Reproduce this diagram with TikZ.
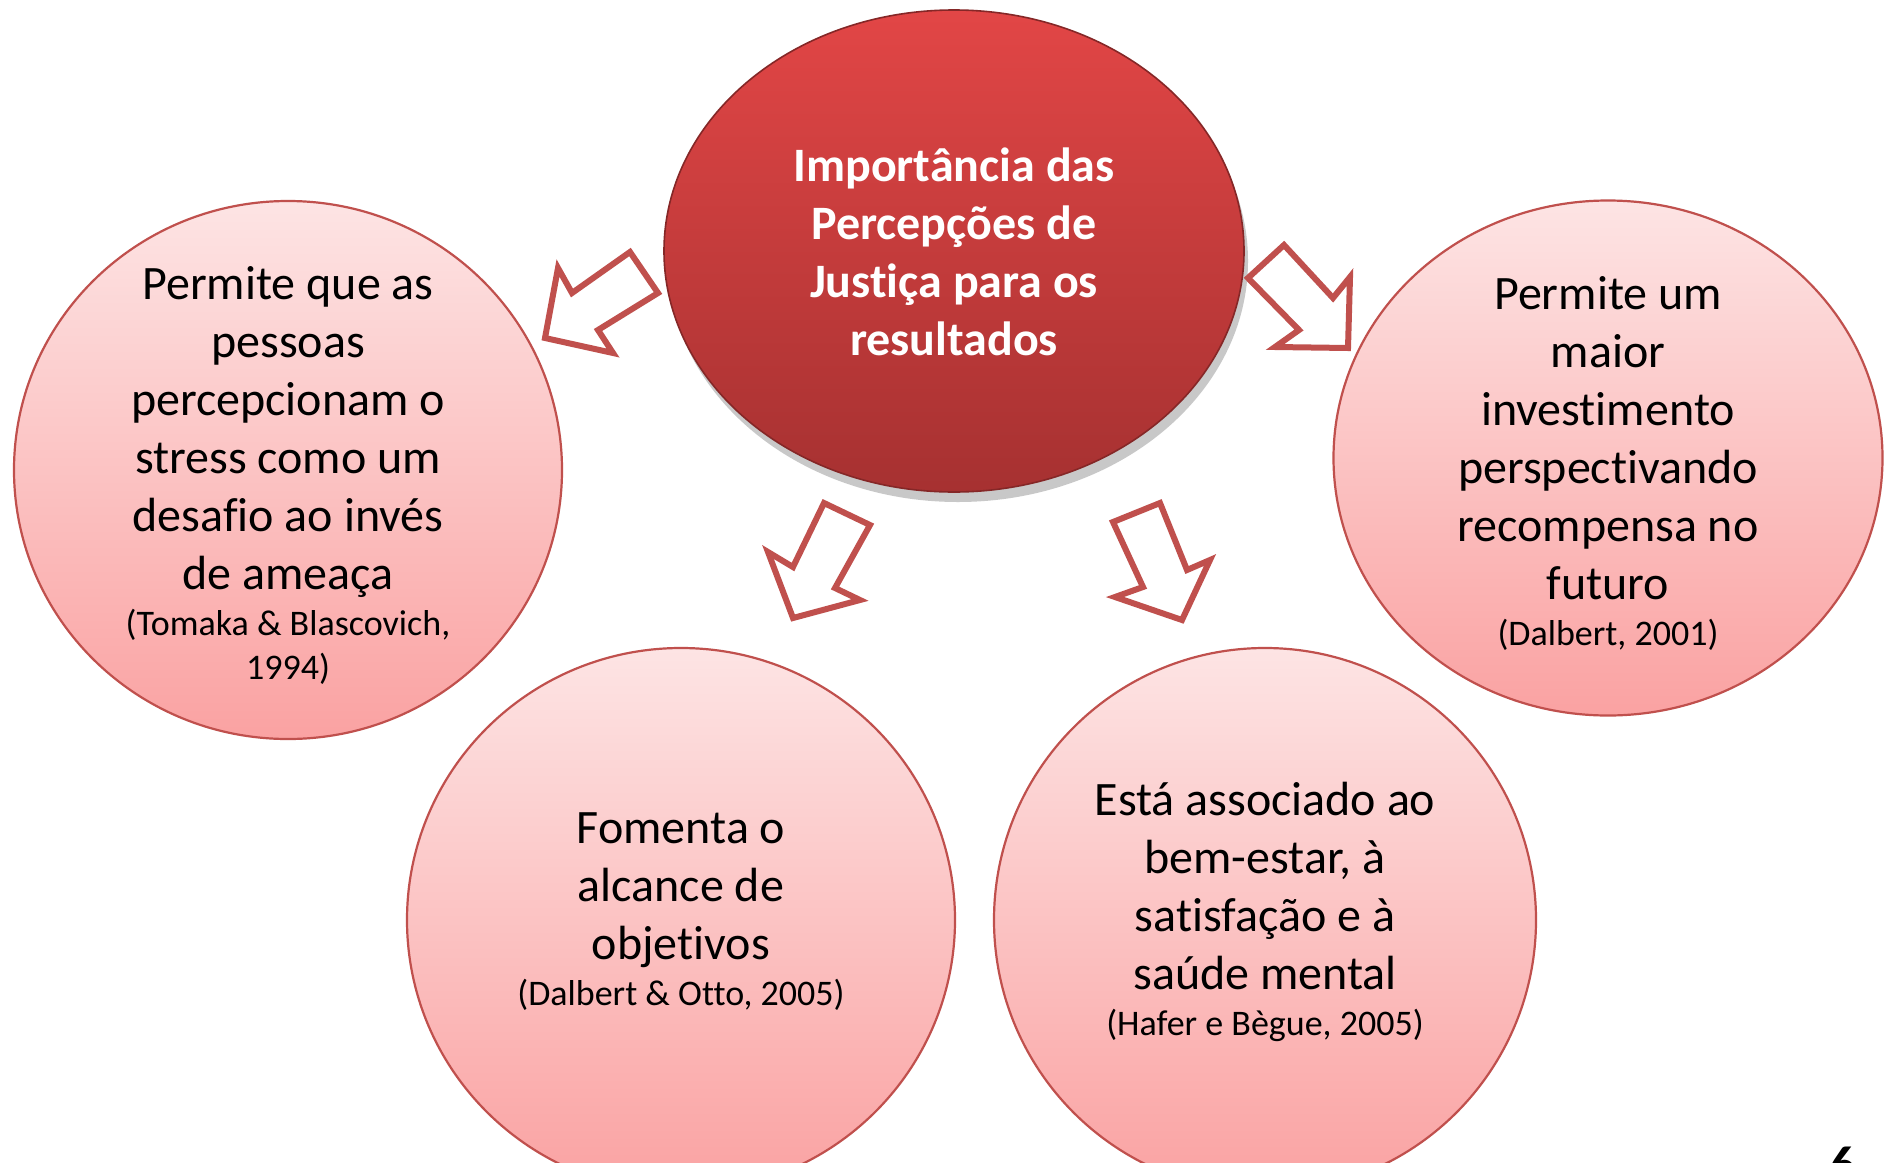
\documentclass[tikz,border=0pt]{standalone}
\usepackage{fontspec}
\setmainfont{Carlito}[Ligatures=NoCommon]
\usetikzlibrary{shadows,shapes.geometric}
\definecolor{accent}{HTML}{C0504D}
\definecolor{pinktop}{HTML}{FDE4E4}
\definecolor{pinkbot}{HTML}{FAA2A2}
\definecolor{redtop}{HTML}{E24646}
\definecolor{redbot}{HTML}{A63131}
\tikzset{
  bubble/.style={ellipse, draw=accent, line width=1.1pt, top color=pinktop, bottom color=pinkbot, inner sep=0pt},
  bubbletext/.style={align=center, inner sep=0pt, font=\fontsize{24}{29}\selectfont, text=black},
  hub/.style={ellipse, draw=redbot!80!black, line width=0.8pt, top color=redtop, bottom color=redbot, inner sep=0pt, drop shadow={shadow xshift=2pt, shadow yshift=-5pt, opacity=0.3, fill=black!70}},
  hubtext/.style={align=center, inner sep=0pt, font=\bfseries\fontsize{24}{29}\selectfont, text=white},
  blockarrow/.style={draw=accent, line width=3pt, fill=white, line join=miter},
}
\newcommand{\refsmall}[1]{{\fontsize{18}{22}\selectfont #1}}
\begin{document}
\begin{tikzpicture}[x=0.5pt,y=-0.5pt]
\useasboundingbox (0,0) rectangle (1884,1162);
\clip (0,0) rectangle (1884,1162);
\fill[white] (0,0) rectangle (1884,1162);
% outer bubbles
\node[bubble, minimum width=274pt, minimum height=269pt] (left) at (288,470) {};
\node[bubble, minimum width=274.5pt, minimum height=257.5pt] (right) at (1608,458) {};
\node[bubble, minimum width=274pt, minimum height=272pt] (botleft) at (681,920) {};
\node[bubble, minimum width=271pt, minimum height=272pt] (botright) at (1265,920) {};
\node[bubbletext] (lefttext) at (288,475)
  {Permite que as\\ pessoas\\ percepcionam o\\ stress como um\\ desafio ao invés\\ de ameaça\\[-6pt] \refsmall{(Tomaka \& Blascovich,}\\[-7pt] \refsmall{1994)}};
\node[bubbletext] (righttext) at (1608,463)
  {Permite um\\ maior\\ investimento\\ perspectivando\\ recompensa no\\ futuro\\[-6pt] \refsmall{(Dalbert, 2001)}};
\node[bubbletext] (botlefttext) at (681,912)
  {Fomenta o\\ alcance de\\ objetivos\\[-6pt] \refsmall{(Dalbert \& Otto, 2005)}};
\node[bubbletext] (botrighttext) at (1265,912)
  {Está associado ao\\ bem-estar, à\\ satisfação e à\\ saúde mental\\[-6pt] \refsmall{(Hafer e Bègue, 2005)}};
% hub
\node[hub, minimum width=290pt, minimum height=241pt] (hub) at (954,251) {};
\node[hubtext] (hubtext) at (954,252)
  {Importância das\\ Percepções de\\ Justiça para os\\ resultados};
% block arrows
\draw[blockarrow] (545,338) -- (558,268) -- (572,293) -- (630,252) -- (658,293) -- (598,330) -- (613,353) -- cycle;
\draw[blockarrow] (1348,348) -- (1275,347) -- (1299,330) -- (1248,278) -- (1284,245) -- (1333,298) -- (1350,277) -- cycle;
\draw[blockarrow] (793,618) -- (768,552) -- (793,567) -- (824,503) -- (870,525) -- (835,588) -- (860,600) -- cycle;
\draw[blockarrow] (1182,620) -- (1115,597) -- (1143,587) -- (1113,522) -- (1160,503) -- (1187,570) -- (1210,560) -- cycle;
% page number
\node[font=\bfseries\fontsize{26}{30}\selectfont, anchor=north] (pagenum) at (1843,1140) {6};
\end{tikzpicture}
\end{document}
